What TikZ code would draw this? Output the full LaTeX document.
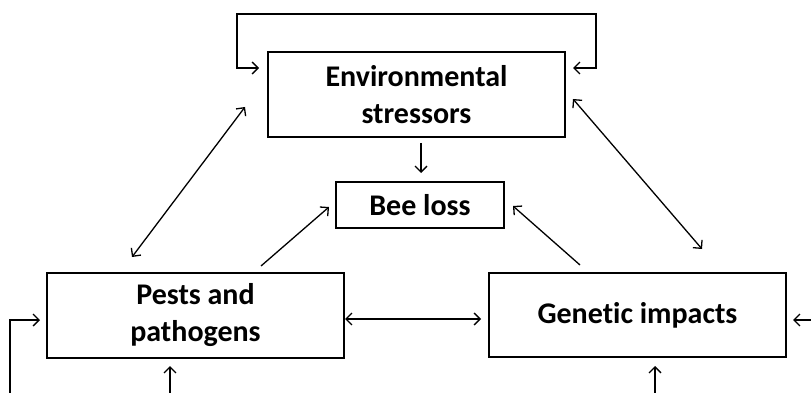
\documentclass[tikz,border=0pt]{standalone}
\usepackage{fontspec}
\setmainfont{Carlito}[Ligatures=NoCommon]
\usetikzlibrary{arrows.meta}
\begin{document}
\begin{tikzpicture}[x=1pt,y=-1pt,
  box/.style={draw, line width=2.4pt, inner sep=0pt, align=center,
    font=\bfseries\fontsize{30}{37}\selectfont},
  tip/.tip={Straight Barb[length=6pt,width=12pt,line width=1.3pt]},
  conn/.style={line width=1.3pt, -tip},
  dconn/.style={line width=1.3pt, tip-tip}]
\useasboundingbox[fill=white] (0,0) rectangle (811,393);
% boxes
\node[box, minimum width=297pt, minimum height=85pt] (env) at (416.5,94.5) {Environmental\\stressors};
\node[box, minimum width=168pt, minimum height=46pt] (bee) at (420,205) {Bee loss};
\node[box, minimum width=297pt, minimum height=85pt] (pests) at (195.5,315.5) {Pests and\\pathogens};
\node[box, minimum width=297pt, minimum height=84pt] (gen) at (637.5,315) {Genetic impacts};
% connector end points
\coordinate (loopL) at (259,68);
\coordinate (loopR) at (573,68);
\coordinate (envB) at (421,143);
\coordinate (beeT) at (421,173);
\coordinate (epA) at (132,257);
\coordinate (epB) at (245,107);
\coordinate (egA) at (573,99);
\coordinate (egB) at (702,249);
\coordinate (pbA) at (261,266);
\coordinate (pbB) at (329,207);
\coordinate (gbA) at (580,265);
\coordinate (gbB) at (513,206);
\coordinate (pgA) at (345,319);
\coordinate (pgB) at (481,319);
\coordinate (inL) at (10,393);
\coordinate (inLtip) at (40,320);
\coordinate (inR) at (811,320);
\coordinate (inRtip) at (793,320);
\coordinate (inP) at (170,393);
\coordinate (inPtip) at (170,366);
\coordinate (inG) at (655,393);
\coordinate (inGtip) at (655,366);
% connectors
\draw[dconn] (loopL) -- (237,68) -- (237,14) -- (596,14) -- (596,68) -- (loopR);
\draw[conn] (envB) -- (beeT);
\draw[dconn] (epA) -- (epB);
\draw[dconn] (egA) -- (egB);
\draw[conn] (pbA) -- (pbB);
\draw[conn] (gbA) -- (gbB);
\draw[dconn] (pgA) -- (pgB);
\draw[conn] (inL) |- (inLtip);
\draw[conn] (inR) -- (inRtip);
\draw[conn] (inP) -- (inPtip);
\draw[conn] (inG) -- (inGtip);
\end{tikzpicture}
\end{document}
